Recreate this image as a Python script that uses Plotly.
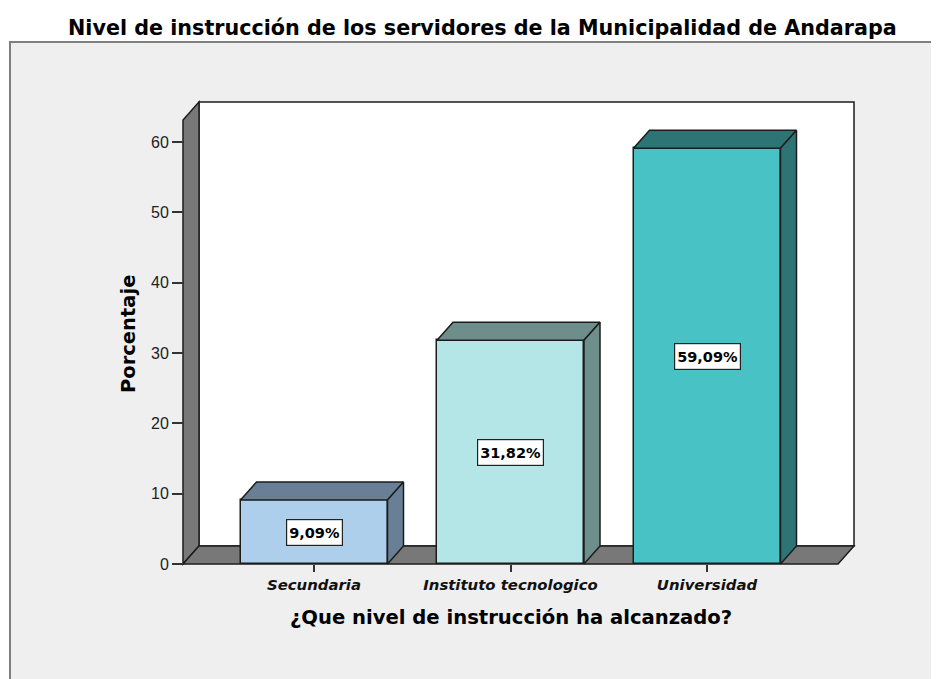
import plotly.graph_objects as go

# ---- data ----
categories = ["Secundaria", "Instituto tecnologico", "Universidad"]
percentages = [9.09, 31.82, 59.09]
front_colors = ["#aecfec", "#b4e6e7", "#48c2c5"]
side_colors = ["#687f96", "#6e8e8b", "#2c7574"]
y_ticks = [0, 10, 20, 30, 40, 50, 60]

title_text = "Nivel de instrucción de los servidores de la Municipalidad de Andarapa"
x_title = "¿Que nivel de instrucción ha alcanzado?"
y_title = "Porcentaje"

# ---- geometry (pixel layout of the frame, in page coordinates) ----
W, H = 939, 679
OFF = 8                                  # page body margin in the browser
PX_L, PX_R, PX_T, PX_B = 175, 862, 95, 572
X0_PX, X_STEP_PX = 314.0, 196.5          # pixel of category 0, pixels per category
Y0_PX, Y_UNIT_PX = 564.0, 7.035          # pixel of value 0, pixels per percent
DX_PX, DY_PX = 16.0, 18.0                # 3D depth offset

def ux(px):
    return (px - X0_PX) / X_STEP_PX

def uy(py):
    return (Y0_PX - py) / Y_UNIT_PX

def fx(px):
    return (px - PX_L) / (PX_R - PX_L)

def fy(py):
    return (PX_B - py) / (PX_B - PX_T)

dxu = DX_PX / X_STEP_PX
dyu = DY_PX / Y_UNIT_PX
x_left = ux(183)
x_fr = ux(838)
y_top = uy(102)
bar_w = 147 / X_STEP_PX

EDGE = "#1c1c1c"
WALL = "#787878"
FONT_B = "DejaVu Sans"

xs = list(range(len(categories)))

fig = go.Figure()

# front faces
fig.add_trace(go.Bar(
    x=xs, y=percentages, width=bar_w,
    marker=dict(color=front_colors, line=dict(color=EDGE, width=1.5)),
    hoverinfo="skip", showlegend=False,
))

# top and side faces
for i, v in enumerate(percentages):
    l, r = i - bar_w / 2, i + bar_w / 2
    fig.add_trace(go.Scatter(
        x=[l, r, r + dxu, l + dxu, l], y=[v, v, v + dyu, v + dyu, v],
        mode="lines", fill="toself", fillcolor=side_colors[i],
        line=dict(color=EDGE, width=1.5), hoverinfo="skip", showlegend=False,
    ))
    fig.add_trace(go.Scatter(
        x=[r, r + dxu, r + dxu, r, r], y=[0, dyu, v + dyu, v, 0],
        mode="lines", fill="toself", fillcolor=side_colors[i],
        line=dict(color=EDGE, width=1.5), hoverinfo="skip", showlegend=False,
    ))

shapes = [
    # outer gray panel
    dict(type="rect", xref="paper", yref="paper", layer="below",
         x0=fx(10), x1=fx(960), y0=fy(42), y1=fy(700),
         fillcolor="#efefef", line=dict(color="#7f7f7f", width=2)),
    # back wall
    dict(type="rect", xref="x", yref="y", layer="below",
         x0=x_left + dxu, x1=x_fr + dxu, y0=dyu, y1=y_top,
         fillcolor="white", line=dict(color=EDGE, width=1.5)),
    # left wall
    dict(type="path", xref="x", yref="y", layer="below",
         path=f"M {x_left},0 L {x_left},{y_top - dyu} L {x_left + dxu},{y_top} L {x_left + dxu},{dyu} Z",
         fillcolor=WALL, line=dict(color=EDGE, width=1.5)),
    # floor
    dict(type="path", xref="x", yref="y", layer="below",
         path=f"M {x_left},0 L {x_fr},0 L {x_fr + dxu},{dyu} L {x_left + dxu},{dyu} Z",
         fillcolor=WALL, line=dict(color=EDGE, width=1.5)),
]

annotations = [
    dict(text=title_text, xref="paper", yref="paper", x=fx(482), y=fy(28),
         xanchor="center", yanchor="middle", showarrow=False,
         font=dict(family=FONT_B, size=20.7, color="black", weight="bold")),
    dict(text=x_title, xref="paper", yref="paper", x=fx(511), y=fy(617),
         xanchor="center", yanchor="middle", showarrow=False,
         font=dict(family=FONT_B, size=19.6, color="black", weight="bold")),
    dict(text=y_title, xref="paper", yref="paper", x=fx(128), y=fy(334),
         xanchor="center", yanchor="middle", showarrow=False, textangle=-90,
         font=dict(family=FONT_B, size=19.5, color="black", weight="bold")),
]
for i, v in enumerate(percentages):
    annotations.append(dict(
        text=f"{v:.2f}".replace(".", ",") + "%", x=i, y=v / 2, xref="x", yref="y",
        showarrow=False, bgcolor="white", bordercolor="#222222", borderwidth=1.2,
        borderpad=2, height=21,
        font=dict(family=FONT_B, size=14.5, color="black", weight="bold"),
    ))

fig.update_layout(
    width=W, height=H,
    margin=dict(l=PX_L - OFF, r=W - (PX_R - OFF), t=PX_T - OFF, b=H - (PX_B - OFF), pad=0),
    paper_bgcolor="white", plot_bgcolor="rgba(0,0,0,0)",
    shapes=shapes, annotations=annotations, bargap=0,
    xaxis=dict(
        range=[ux(PX_L), ux(PX_R)], anchor="free", position=fy(Y0_PX),
        tickmode="array", tickvals=xs, ticktext=categories,
        ticks="outside", ticklen=7, tickwidth=1.5, tickcolor="#333333",
        showgrid=False, zeroline=False, showline=False,
        tickfont=dict(family=FONT_B, size=14.9, color="#111111", weight="bold", style="italic"),
    ),
    yaxis=dict(
        range=[uy(PX_B), uy(PX_T)], anchor="free", position=fx(183),
        tickmode="array", tickvals=y_ticks,
        ticks="outside", ticklen=11, tickwidth=2, tickcolor="#333333",
        showgrid=False, zeroline=False, showline=False,
        tickfont=dict(family="Liberation Sans", size=16, color="#222222"),
    ),
)

fig.write_html("out.html")
